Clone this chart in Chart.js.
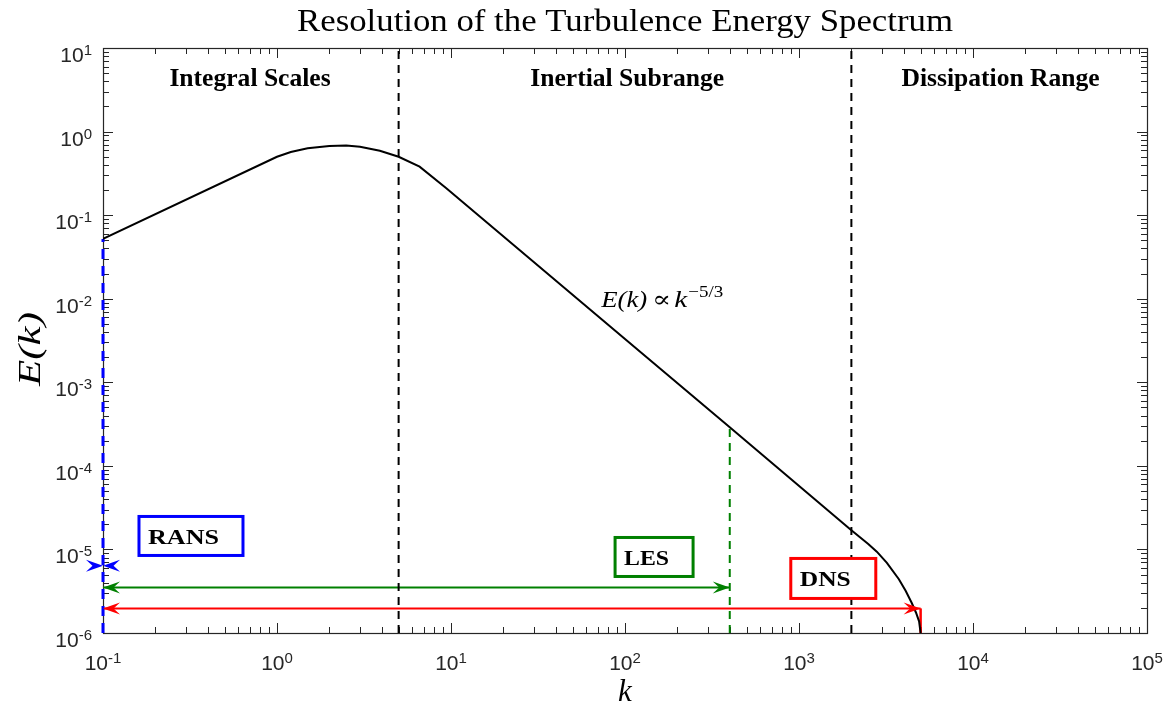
<!DOCTYPE html>
<html>
<head>
<meta charset="utf-8">
<script src="https://cdn.jsdelivr.net/npm/chart.js@4.4.0/dist/chart.umd.min.js"></script>
<style>
  html, body { margin: 0; padding: 0; background: #fff; }
  #wrap { width: 1176px; height: 709px; }
</style>
</head>
<body>
<div id="wrap"><canvas id="c" width="1176" height="709"></canvas></div>
<script>
// energy spectrum E(k)
const kVals = [0.1, 1, 1.2, 1.5, 2, 2.5, 3, 3.9, 5, 6.6, 9.4, 100, 400, 2000, 2500, 2800, 3200, 3750, 4100, 4440, 4700, 4900, 5000];
const eVals = [0.052, 0.5, 0.57, 0.63, 0.67, 0.68, 0.66, 0.59, 0.5, 0.38, 0.21, 3.3e-3, 2.9e-4, 1.7e-5, 1.16e-5, 9.4e-6, 6.9e-6, 4.4e-6, 3.2e-6, 2.3e-6, 1.76e-6, 1.38e-6, 1e-6];

// range boundaries and cut-offs
const rangeBounds = [5, 2000];
const ransCut = 0.1, ransTop = 0.052;
const lesCut = 400, lesTop = 2.9e-4;
const dnsCut = 5000;

// arrow levels
const ransArrowY = 6.4e-6;
const lesArrowY = 3.5e-6;
const dnsArrowY = 1.97e-6;

// axes
const xMin = 0.1, xMax = 1e5, yMin = 1e-6, yMax = 10;
const xExps = [-1, 0, 1, 2, 3, 4, 5];
const yExps = [-6, -5, -4, -3, -2, -1, 0, 1];
const minorSteps = [2, 3, 4, 5, 6, 7, 8, 9];

const axisColor = '#262626';
const serif = '"Liberation Serif", "DejaVu Serif", serif';
const sans = '"Liberation Sans", Arial, sans-serif';

function seg(x0, y0, x1, y1) {
  return [{ x: x0, y: y0 }, { x: x1, y: y1 }];
}

const datasets = [
  {
    data: kVals.map((k, i) => ({ x: k, y: eVals[i] })),
    borderColor: '#000', borderWidth: 2
  },
  { data: seg(rangeBounds[0], yMin, rangeBounds[0], yMax), borderColor: '#000', borderWidth: 2, borderDash: [8, 6] },
  { data: seg(rangeBounds[1], yMin, rangeBounds[1], yMax), borderColor: '#000', borderWidth: 2, borderDash: [8, 6] },
  { data: seg(lesCut, yMin, lesCut, lesTop), borderColor: '#008000', borderWidth: 2, borderDash: [8, 6] },
  { data: seg(ransCut, yMin, ransCut, ransTop), borderColor: '#0000ff', borderWidth: 3, borderDash: [10, 7], clip: false },
  { data: seg(dnsCut, yMin, dnsCut, dnsArrowY), borderColor: '#ff0000', borderWidth: 2.5 },
  { data: seg(ransCut, lesArrowY, lesCut, lesArrowY), borderColor: '#008000', borderWidth: 2 },
  { data: seg(ransCut, dnsArrowY, dnsCut, dnsArrowY), borderColor: '#ff0000', borderWidth: 2 }
].map(d => Object.assign({ showLine: true, pointRadius: 0, fill: false, tension: 0 }, d));

function drawPow(ctx, x, y, exp, align, baseSize, supSize, raise) {
  ctx.font = baseSize + 'px ' + sans;
  const wb = ctx.measureText('10').width;
  ctx.font = supSize + 'px ' + sans;
  const ws = ctx.measureText(exp).width;
  const total = wb + ws;
  let x0 = align === 'right' ? x - total : x - total / 2;
  ctx.textAlign = 'left';
  ctx.textBaseline = 'alphabetic';
  ctx.font = baseSize + 'px ' + sans;
  ctx.fillText('10', x0, y);
  ctx.font = supSize + 'px ' + sans;
  ctx.fillText(exp, x0 + wb, y - raise);
}

// text stretched horizontally to a given width (CM fonts are wider than Times)
function wideText(ctx, text, x, y, w, align) {
  const m = ctx.measureText(text).width;
  const s = w / m;
  ctx.save();
  ctx.textAlign = 'left';
  const x0 = align === 'center' ? x - w / 2 : x;
  ctx.translate(x0, y);
  ctx.scale(s, 1);
  ctx.fillText(text, 0, 0);
  ctx.restore();
  return w;
}

const frame = {
  id: 'frame',
  beforeDatasetsDraw(chart) {
    const { ctx, chartArea: a, scales: { x, y } } = chart;
    ctx.save();
    ctx.strokeStyle = axisColor;
    ctx.lineWidth = 1;
    ctx.beginPath();
    xExps.forEach(e => {
      minorSteps.concat([1]).forEach(m => {
        const v = m * Math.pow(10, e);
        if (v < xMin || v > xMax) return;
        const px = Math.round(x.getPixelForValue(v)) + 0.5;
        const len = m === 1 ? 10 : 6;
        ctx.moveTo(px, a.bottom); ctx.lineTo(px, a.bottom - len);
        ctx.moveTo(px, a.top); ctx.lineTo(px, a.top + len);
      });
    });
    yExps.forEach(e => {
      minorSteps.concat([1]).forEach(m => {
        const v = m * Math.pow(10, e);
        if (v < yMin || v > yMax) return;
        const py = Math.round(y.getPixelForValue(v)) + 0.5;
        const len = m === 1 ? 10 : 6;
        ctx.moveTo(a.left, py); ctx.lineTo(a.left + len, py);
        ctx.moveTo(a.right, py); ctx.lineTo(a.right - len, py);
      });
    });
    ctx.stroke();
    ctx.lineWidth = 1.2;
    ctx.strokeRect(Math.round(a.left) + 0.5, Math.round(a.top) + 0.5, Math.round(a.right - a.left), Math.round(a.bottom - a.top));

    // tick labels
    ctx.fillStyle = axisColor;
    xExps.forEach(e => {
      drawPow(ctx, x.getPixelForValue(Math.pow(10, e)), a.bottom + 37, String(e), 'center', 21, 15, 7);
    });
    yExps.forEach(e => {
      drawPow(ctx, a.left - 11, y.getPixelForValue(Math.pow(10, e)) + 14, String(e), 'right', 21, 15, 7);
    });
    ctx.restore();
  }
};

function arrowHead(ctx, tx, ty, dir, color) {
  const L = 17, W = 12, N = 0.62;
  ctx.fillStyle = color;
  ctx.beginPath();
  ctx.moveTo(tx, ty);
  ctx.lineTo(tx - dir * L, ty - W / 2);
  ctx.lineTo(tx - dir * L * N, ty);
  ctx.lineTo(tx - dir * L, ty + W / 2);
  ctx.closePath();
  ctx.fill();
}

function fitFont(ctx, text, family, weight, target) {
  ctx.font = weight + ' 100px ' + family;
  return 100 * target / ctx.measureText(text).width;
}

function labelBox(ctx, x, y, k, e, w, h, text, textW, color) {
  const px = x.getPixelForValue(k), py = y.getPixelForValue(e);
  ctx.fillStyle = '#fff';
  ctx.fillRect(px, py, w, h);
  ctx.strokeStyle = color;
  ctx.lineWidth = 3;
  ctx.strokeRect(px, py, w, h);
  ctx.fillStyle = '#000';
  ctx.font = 'bold 21px ' + serif;
  ctx.textBaseline = 'alphabetic';
  wideText(ctx, text, px + 9, py + h / 2 + 8, textW, 'left');
}

const marks = {
  id: 'marks',
  afterDatasetsDraw(chart) {
    const { ctx, chartArea: a, scales: { x, y } } = chart;
    ctx.save();

    // arrows
    const ry = y.getPixelForValue(ransArrowY), rx = x.getPixelForValue(ransCut);
    arrowHead(ctx, rx, ry, 1, '#0000ff');
    arrowHead(ctx, rx, ry, -1, '#0000ff');
    const ly = y.getPixelForValue(lesArrowY);
    arrowHead(ctx, x.getPixelForValue(ransCut), ly, -1, '#008000');
    arrowHead(ctx, x.getPixelForValue(lesCut), ly, 1, '#008000');
    const dy = y.getPixelForValue(dnsArrowY);
    arrowHead(ctx, x.getPixelForValue(ransCut), dy, -1, '#ff0000');
    arrowHead(ctx, x.getPixelForValue(dnsCut), dy, 1, '#ff0000');

    // boxes
    labelBox(ctx, x, y, 0.161, 2.48e-5, 104, 39, 'RANS', 71, '#0000ff');
    labelBox(ctx, x, y, 87.7, 1.39e-5, 78, 39, 'LES', 45, '#008000');
    labelBox(ctx, x, y, 897, 7.8e-6, 85, 40, 'DNS', 51, '#ff0000');

    // range names
    ctx.fillStyle = '#000';
    ctx.textAlign = 'center';
    ctx.textBaseline = 'alphabetic';
    const rs = fitFont(ctx, 'Inertial Subrange', serif, 'bold', 194);
    ctx.font = 'bold ' + rs + 'px ' + serif;
    const ny = y.getPixelForValue(3.7) + 2;
    ctx.fillText('Integral Scales', x.getPixelForValue(0.7), ny);
    ctx.fillText('Inertial Subrange', x.getPixelForValue(103), ny);
    ctx.fillText('Dissipation Range', x.getPixelForValue(14400), ny);

    // slope note
    let sx = x.getPixelForValue(73);
    const sy = y.getPixelForValue(8.2e-3) + 1;
    ctx.textAlign = 'left';
    ctx.font = 'italic 23px ' + serif;
    sx += wideText(ctx, 'E(k)', sx, sy, 46, 'left') + 5;
    ctx.font = '23px ' + serif;
    sx += wideText(ctx, '\u221D', sx, sy, 19, 'left') + 3;
    ctx.font = 'italic 23px ' + serif;
    sx += wideText(ctx, 'k', sx, sy, 13, 'left') + 1;
    ctx.font = '16px ' + serif;
    wideText(ctx, '\u22125/3', sx, sy - 10, 35, 'left');

    // title
    ctx.font = '31px ' + serif;
    wideText(ctx, 'Resolution of the Turbulence Energy Spectrum', (a.left + a.right) / 2, 31, 656, 'center');

    // axis titles
    ctx.font = 'italic 31px ' + serif;
    ctx.textAlign = 'center';
    ctx.fillText('k', (a.left + a.right) / 2, 701);
    ctx.translate(40, 349);
    ctx.rotate(-Math.PI / 2);
    ctx.font = 'italic 31px ' + serif;
    wideText(ctx, 'E(k)', 0, 0, 74, 'center');
    ctx.restore();
  }
};

new Chart(document.getElementById('c').getContext('2d'), {
  type: 'scatter',
  data: { datasets: datasets },
  options: {
    responsive: false,
    animation: false,
    layout: { padding: { left: 103, right: 29, top: 48, bottom: 76 } },
    plugins: { legend: { display: false }, tooltip: { enabled: false } },
    scales: {
      x: {
        type: 'logarithmic', min: xMin, max: xMax,
        grid: { display: false }, border: { display: false }, ticks: { display: false },
        afterFit: s => { s.height = 0; }
      },
      y: {
        type: 'logarithmic', min: yMin, max: yMax,
        grid: { display: false }, border: { display: false }, ticks: { display: false },
        afterFit: s => { s.width = 0; }
      }
    }
  },
  plugins: [frame, marks]
});
</script>
</body>
</html>
